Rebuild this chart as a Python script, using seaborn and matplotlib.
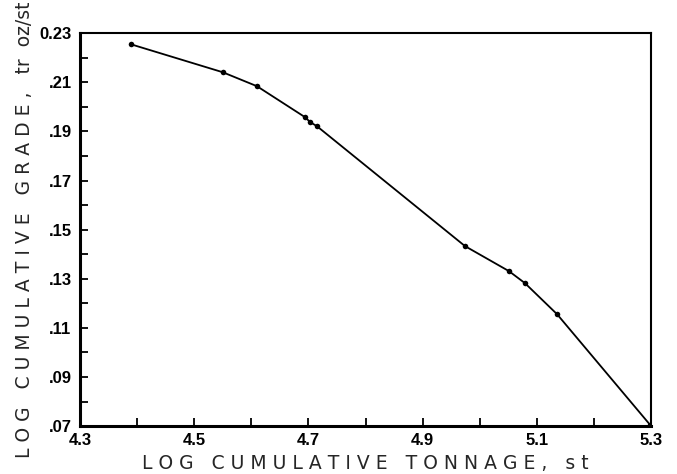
import pandas as pd
import matplotlib
matplotlib.use("Agg")
import matplotlib.pyplot as plt
import seaborn as sns

# values
log_tonnage = [4.389, 4.550, 4.610, 4.694, 4.703, 4.715, 4.974, 5.051, 5.079, 5.135, 5.298]
log_grade = [0.2255, 0.2141, 0.2084, 0.1958, 0.1938, 0.1921, 0.1433, 0.1331, 0.1282, 0.1156, 0.0705]

x_ticks = [4.3, 4.5, 4.7, 4.9, 5.1, 5.3]
x_tick_labels = ["4.3", "4.5", "4.7", "4.9", "5.1", "5.3"]
y_ticks = [0.07, 0.09, 0.11, 0.13, 0.15, 0.17, 0.19, 0.21, 0.23]
y_tick_labels = [".07", ".09", ".11", ".13", ".15", ".17", ".19", ".21", "0.23"]

df = pd.DataFrame({"tonnage": log_tonnage, "grade": log_grade})

sns.set_style("ticks")
plt.rcParams["font.family"] = ["Liberation Sans", "DejaVu Sans"]

fig = plt.figure(figsize=(6.77, 4.74), dpi=100)
ax = fig.add_axes([0.118, 0.101, 0.844, 0.829])

sns.lineplot(data=df, x="tonnage", y="grade", color="black", linewidth=1.3,
             marker="o", markersize=4, markeredgewidth=0, ax=ax)

ax.set_xlim(4.3, 5.3)
ax.set_ylim(0.07, 0.23)
ax.set_xticks(x_ticks)
ax.set_xticklabels(x_tick_labels, fontweight="bold")
ax.set_xticks([4.4, 4.6, 4.8, 5.0, 5.2], minor=True)
ax.set_yticks(y_ticks)
ax.set_yticklabels(y_tick_labels, fontweight="bold")
ax.set_yticks([0.08, 0.10, 0.12, 0.14, 0.16, 0.18, 0.20, 0.22], minor=True)

ax.tick_params(axis="both", which="both", direction="in", length=6, width=1.3,
               colors="black", labelsize=12)
ax.tick_params(axis="x", pad=5)
ax.tick_params(axis="y", pad=6)

for side in ["left", "bottom"]:
    ax.spines[side].set_linewidth(2.2)
for side in ["top", "right"]:
    ax.spines[side].set_linewidth(1.5)
for s in ax.spines.values():
    s.set_visible(True)
    s.set_color("black")

ax.set_xlabel("L O G   C U M U L A T I V E   T O N N A G E ,   s t",
              fontsize=13.5, family="DejaVu Sans", labelpad=4)
ax.set_ylabel("L O G   C U M U L A T I V E   G R A D E ,   tr  oz/st",
              fontsize=13.5, family="DejaVu Sans", labelpad=4)

fig.savefig("out.png", dpi=100)
